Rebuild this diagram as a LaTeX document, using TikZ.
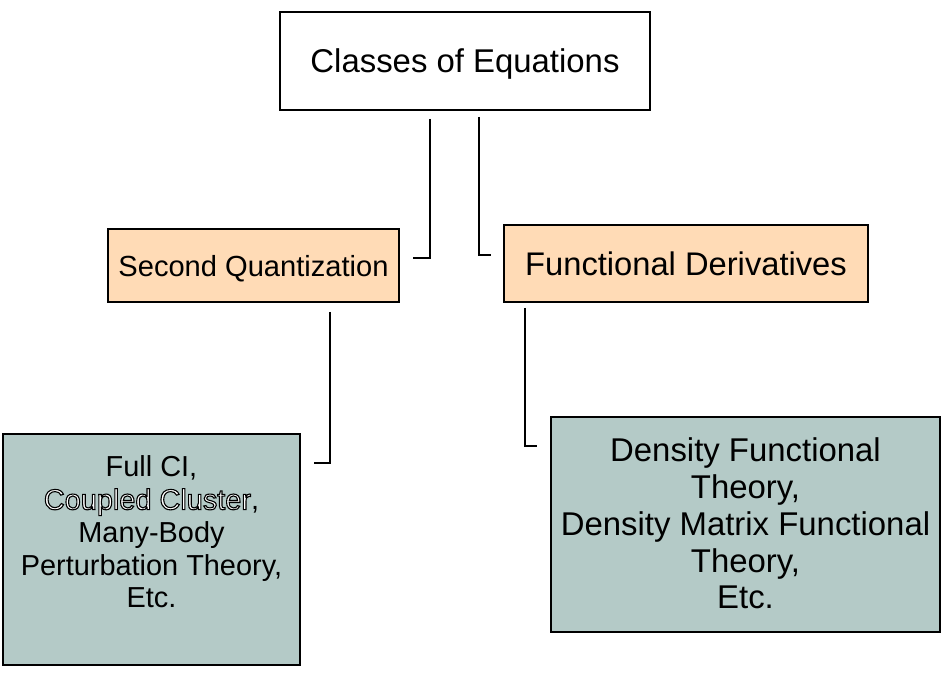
\documentclass[tikz,border=0pt]{standalone}
\usepackage{fontspec}
\setmainfont{Liberation Sans}
\definecolor{peach}{HTML}{FFDBB6}
\definecolor{sage}{HTML}{B4CAC7}
\newcommand{\outlinedtext}[1]{\textcolor{white}{\special{pdf:literal direct 0 G 1.1 w 2 Tr}#1\special{pdf:literal direct 0 Tr}}}
\begin{document}
\begin{tikzpicture}[x=1pt,y=-1pt,
  box/.style={draw=black,line width=2pt,rectangle,inner sep=0pt,anchor=center},
  txt/.style={align=center,inner sep=0pt,text=black},
  conn/.style={draw=black,line width=2pt}]
\useasboundingbox (0,0) rectangle (951,676);
\node[box,fill=white,minimum width=370pt,minimum height=98pt,text depth=0pt,
  font=\fontsize{32.9}{38}\selectfont] (classes) at (465,61) {Classes of Equations};
\node[box,fill=peach,minimum width=291pt,minimum height=73pt,text depth=0pt,
  font=\fontsize{29.1}{33}\selectfont] (sq) at (253.5,265.5) {Second Quantization};
\node[box,fill=peach,minimum width=364pt,minimum height=77pt,text depth=0pt,
  font=\fontsize{32.7}{37}\selectfont] (fd) at (686,263.5) {Functional Derivatives};
\node[box,fill=sage,minimum width=297pt,minimum height=231pt] (lbox) at (151.5,549.5) {};
\node[box,fill=sage,minimum width=389pt,minimum height=215pt] (rbox) at (745.5,524.5) {};
\node[txt,font=\fontsize{28.9}{32.75}\selectfont] (ltext) at (151.5,532)
  {Full CI,\\\outlinedtext{Coupled Cluster},\\Many-Body\\Perturbation Theory,\\Etc.};
\node[txt,font=\fontsize{32.9}{36.75}\selectfont] (rtext) at (745.5,523.5)
  {Density Functional\\Theory,\\Density Matrix Functional\\Theory,\\Etc.};
\draw[conn] ([xshift=-35pt,yshift=-8pt]classes.south) |- ([xshift=13pt,yshift=7.5pt]sq.east);
\draw[conn] ([xshift=14pt,yshift=-6pt]classes.south) |- ([xshift=-12pt,yshift=8.5pt]fd.west);
\draw[conn] ([xshift=76.5pt,yshift=-9pt]sq.south) |- ([xshift=13pt,yshift=86.5pt]lbox.east);
\draw[conn] ([xshift=-161pt,yshift=-5pt]fd.south) |- ([xshift=-13pt,yshift=78.5pt]rbox.west);
\end{tikzpicture}
\end{document}
